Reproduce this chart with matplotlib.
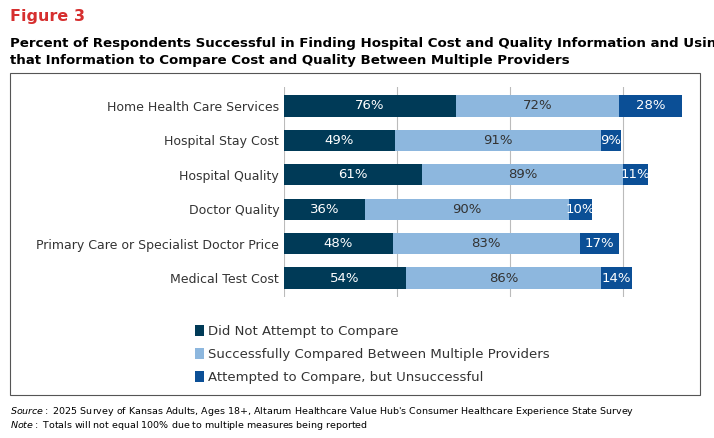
import numpy as np
import matplotlib.pyplot as plt
from matplotlib.patches import Rectangle

categories = ['Home Health Care Services', 'Hospital Stay Cost', 'Hospital Quality',
              'Doctor Quality', 'Primary Care or Specialist Doctor Price', 'Medical Test Cost']
did_not = [76, 49, 61, 36, 48, 54]
success = [72, 91, 89, 90, 83, 86]
unsuccess = [28, 9, 11, 10, 17, 14]
series_names = ['Did Not Attempt to Compare',
                'Successfully Compared Between Multiple Providers',
                'Attempted to Compare, but Unsuccessful']
colors = ['#003a57', '#8db7de', '#0b4f96']
text_colors = ['white', '#333333', 'white']

W, H = 714, 438
fig = plt.figure(figsize=(W / 100, H / 100), dpi=100)
fig.patch.set_facecolor('white')

fig.text(10 / W, 1 - 17 / H, 'Figure 3', color='#d62f2f', fontsize=11.5,
         fontweight='bold', va='center', ha='left')
fig.text(10 / W, 1 - 52 / H,
         'Percent of Respondents Successful in Finding Hospital Cost and Quality Information and Using\n'
         'that Information to Compare Cost and Quality Between Multiple Providers',
         fontsize=9.6, fontweight='bold', va='center', ha='left', linespacing=1.45)

# outer frame
fig.patches.append(Rectangle((10 / W, 1 - 395 / H), 690 / W, 322 / H,
                             transform=fig.transFigure, fill=False,
                             edgecolor='#555555', lw=0.8))

ax = fig.add_axes([284 / W, 1 - 297 / H, 407 / W, 210 / H])
y = np.arange(len(categories))
left = np.zeros(len(categories))
for vals, c, tc, name in zip([did_not, success, unsuccess], colors, text_colors, series_names):
    vals = np.array(vals)
    ax.barh(y, vals, left=left, height=0.62, color=c, label=name, zorder=3)
    for yi, l, v in zip(y, left, vals):
        ax.text(l + v / 2, yi, f'{v}%', ha='center', va='center', color=tc,
                fontsize=9.5, zorder=4)
    left = left + vals

ax.set_xlim(0, 180)
ax.set_ylim(len(categories) - 0.45, -0.55)
ax.set_yticks(y)
ax.set_yticklabels(categories, fontsize=9, color='#333333')
ax.set_xticks([0, 50, 100, 150])
ax.xaxis.grid(True, color='#bbbbbb', lw=0.8, zorder=0)
ax.tick_params(axis='both', length=0)
ax.set_xticklabels([])
for s in ax.spines.values():
    s.set_visible(False)

handles, labels = ax.get_legend_handles_labels()
fig.legend(handles, labels, loc='upper left', bbox_to_anchor=(183 / W, 1 - 313 / H),
           frameon=False, fontsize=9.5, handlelength=0.7, handleheight=0.9,
           handletextpad=0.3, labelspacing=0.75, labelcolor='#333333')

fig.text(10 / W, 1 - 411 / H,
         r"$\it{Source:}$ 2025 Survey of Kansas Adults, Ages 18+, Altarum Healthcare Value Hub's Consumer Healthcare Experience State Survey",
         fontsize=6.8, va='center', ha='left')
fig.text(10 / W, 1 - 425 / H,
         r'$\it{Note:}$ Totals will not equal 100% due to multiple measures being reported',
         fontsize=6.8, va='center', ha='left')

fig.savefig('out.png', dpi=100)
